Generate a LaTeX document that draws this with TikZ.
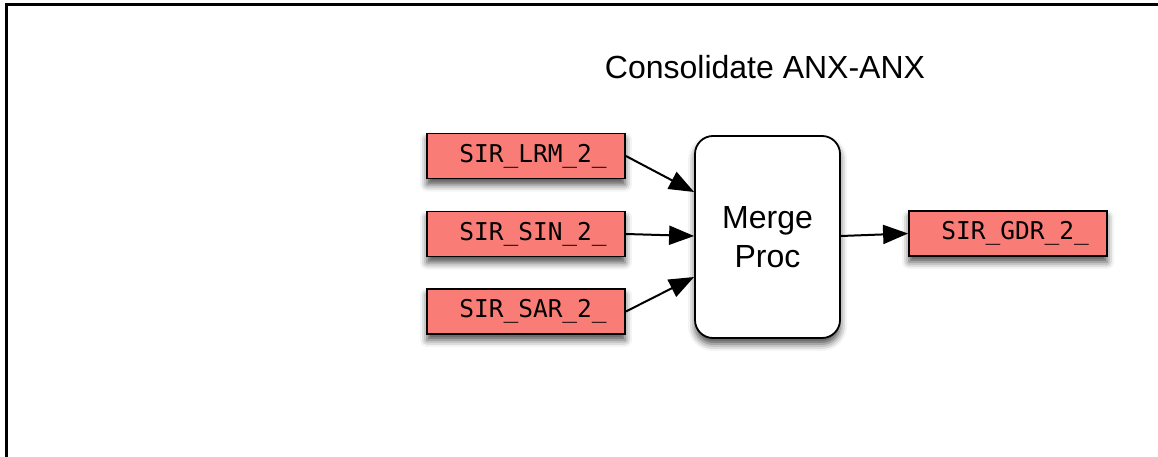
\documentclass[tikz,border=0pt]{standalone}
\usepackage{fontspec}
\setmainfont{Liberation Sans}
\newfontfamily\boxmono{DejaVu Sans Mono}
\usetikzlibrary{arrows.meta,shadows.blur}
\definecolor{dsfill}{RGB}{250,124,118}
\tikzset{
  softshadow/.style={blur shadow={shadow xshift=0pt, shadow yshift=-6pt,
    shadow blur radius=7pt, shadow opacity=70}},
  dataset/.style={draw=black, line width=1.8pt, fill=dsfill, minimum width=198pt,
    minimum height=45pt, inner sep=0pt, font=\boxmono\fontsize{24.5}{28}\selectfont,
    execute at begin node=\kern14pt, softshadow},
  procbox/.style={draw=black, line width=1.8pt, fill=white, rounded corners=18pt,
    minimum width=145pt, minimum height=202pt, inner sep=0pt, align=center,
    font=\fontsize{32}{39}\selectfont, softshadow},
  flow/.style={line width=2pt, -{Triangle[length=25pt,width=19pt]}}
}
\begin{document}
\begin{tikzpicture}[x=1pt,y=-1pt]
  \useasboundingbox (0,0) rectangle (1158,457);
  % frame along top and left edges
  \draw[line width=2.2pt] (6.5,457) -- (6.5,4.5) -- (1158,4.5);
  \node[font=\fontsize{32}{38}\selectfont] (title) at (765,67) {Consolidate ANX-ANX};
  \node[dataset] (lrm) at (526,156) {SIR\_LRM\_2\_};
  \node[dataset] (sin) at (526,234) {SIR\_SIN\_2\_};
  \node[dataset] (sar) at (526,311.5) {SIR\_SAR\_2\_};
  \node[procbox] (merge) at (767.5,237) {Merge\\Proc};
  \node[dataset] (gdr) at (1008,233.5) {SIR\_GDR\_2\_};
  \draw[flow] (lrm.east) -- (merge.west |- 0,192);
  \draw[flow] (sin.east) -- (merge.west |- 0,236);
  \draw[flow] (sar.east) -- (merge.west |- 0,277);
  \draw[flow] (merge.east |- 0,236) -- (gdr.west);
\end{tikzpicture}
\end{document}
